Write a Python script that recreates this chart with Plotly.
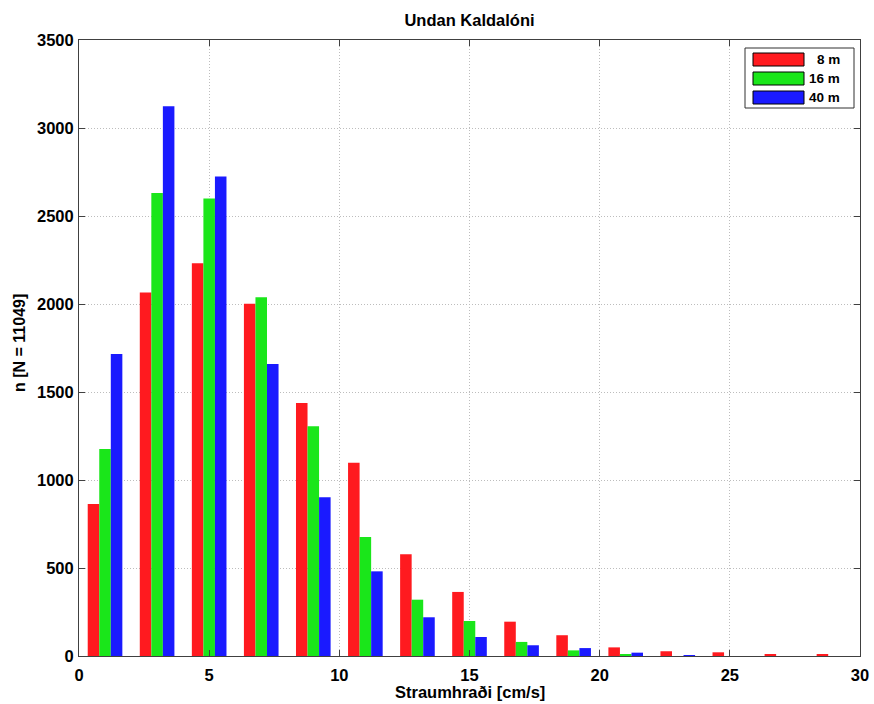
import plotly.graph_objects as go

# Current-speed histogram, bins of 2 cm/s centred on odd values
bin_centres = [1, 3, 5, 7, 9, 11, 13, 15, 17, 19, 21, 23, 25, 27, 29]
depth_names = ["8 m", "16 m", "40 m"]
counts_8m = [864, 2066, 2231, 2002, 1437, 1098, 578, 364, 195, 118, 49, 27, 21, 6, 11]
counts_16m = [1176, 2630, 2600, 2038, 1305, 676, 320, 199, 80, 32, 11, 0, 0, 0, 0]
counts_40m = [1716, 3123, 2725, 1659, 902, 481, 220, 108, 61, 45, 19, 4, 0, 0, 0]
bar_colours = ["#ff1a1f", "#1ae61a", "#1a1aff"]

x_ticks = [0, 5, 10, 15, 20, 25, 30]
y_ticks = [0, 500, 1000, 1500, 2000, 2500, 3000, 3500]

FONT = "Liberation Sans, Arial, Helvetica, sans-serif"
W, H = 874, 704
ML, MR, MT, MB = 79, 14, 40, 48
PW, PH = W - ML - MR, H - MT - MB


def px_x(px):
    return (px - ML) / PW


def px_y(py):
    return (H - MB - py) / PH


fig = go.Figure()
for name, vals, col in zip(depth_names, [counts_8m, counts_16m, counts_40m], bar_colours):
    fig.add_trace(go.Bar(x=bin_centres, y=vals, name=name,
                         marker=dict(color=col, line=dict(width=0)),
                         showlegend=False))

axis_common = dict(
    showline=True, linecolor="#404040", linewidth=1, mirror="ticks",
    ticks="inside", ticklen=6, tickcolor="#404040", tickwidth=1,
    showgrid=True, gridcolor="#bdbdbd", griddash="1px,2px", gridwidth=1,
    zeroline=False, automargin=False,
    tickfont=dict(family=FONT, size=16.5, color="black", weight="bold"),
)

fig.update_layout(
    width=W, height=H,
    margin=dict(l=ML, r=MR, t=MT, b=MB, autoexpand=False),
    paper_bgcolor="white", plot_bgcolor="white",
    barmode="group", bargap=0.335, bargroupgap=0,
    title=dict(text="Undan Kaldalóni", x=(ML + PW / 2) / W, xanchor="center",
               y=1 - 20 / H, yanchor="middle", yref="container",
               font=dict(family=FONT, size=16.5, color="black", weight="bold")),
    xaxis=dict(range=[0, 30], tickvals=x_ticks, ticktext=[str(v) for v in x_ticks],
               ticklabelstandoff=4, **axis_common),
    yaxis=dict(range=[0, 3500], tickvals=y_ticks, ticktext=[str(v) for v in y_ticks],
               ticklabelstandoff=1, **axis_common),
)

# Axis titles
fig.add_annotation(xref="paper", yref="paper", x=0.5, y=px_y(692),
                   text="Straumhraði [cm/s]", showarrow=False,
                   xanchor="center", yanchor="middle",
                   font=dict(family=FONT, size=16.5, color="black", weight="bold"))
fig.add_annotation(xref="paper", yref="paper", x=px_x(19), y=px_y(343),
                   text="n [N = 11049]", showarrow=False, textangle=-90,
                   xanchor="center", yanchor="middle",
                   font=dict(family=FONT, size=16, color="black", weight="bold"))

# Legend box drawn in paper coordinates
fig.add_shape(type="rect", xref="paper", yref="paper",
              x0=px_x(745), x1=px_x(854), y0=px_y(108), y1=px_y(48),
              line=dict(color="#303030", width=1), fillcolor="white")
row_tops = [53, 72, 91]
for name, col, top in zip(depth_names, bar_colours, row_tops):
    fig.add_shape(type="rect", xref="paper", yref="paper",
                  x0=px_x(753), x1=px_x(804), y0=px_y(top + 13), y1=px_y(top),
                  line=dict(color="black", width=1), fillcolor=col)
    fig.add_annotation(xref="paper", yref="paper", x=px_x(842), y=px_y(top + 6.5),
                       text=name, showarrow=False, xanchor="right", yanchor="middle",
                       font=dict(family=FONT, size=13.5, color="black", weight="bold"))

fig.write_html("out.html")
